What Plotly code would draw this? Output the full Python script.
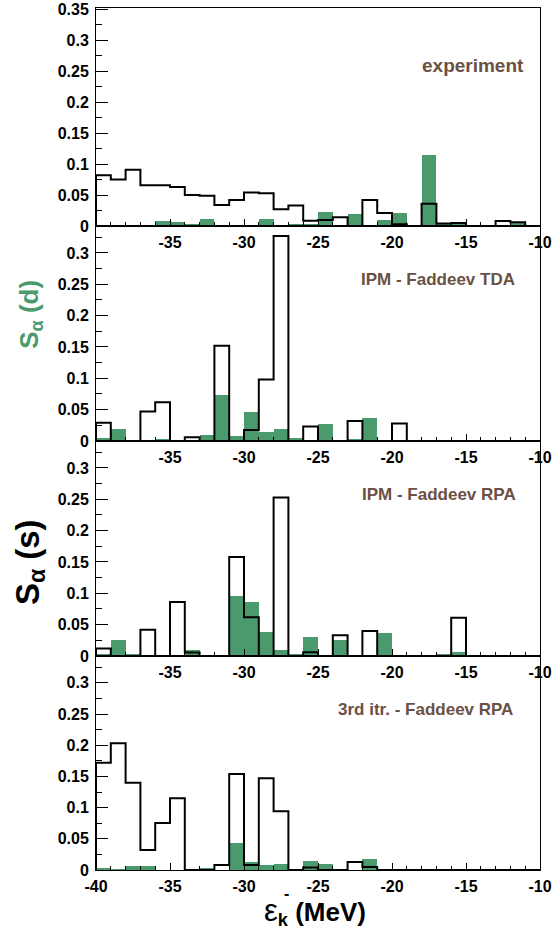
import plotly.graph_objects as go
from plotly.subplots import make_subplots

# ---- data: 30 bins of 1 MeV from -40 to -10 MeV ----
bin_edges = list(range(-40, -9))          # -40 ... -10
bin_centers = [e + 0.5 for e in bin_edges[:-1]]

panel_labels = ["experiment", "IPM - Faddeev TDA", "IPM - Faddeev RPA", "3rd itr. - Faddeev RPA"]

# s-wave (black outline)
exp_s = [0.082, 0.075, 0.091, 0.066, 0.066, 0.063, 0.050, 0.049, 0.034, 0.042,
         0.054, 0.053, 0.027, 0.033, 0.0085, 0.0096, 0.014, 0.0, 0.042, 0.021,
         0.003, 0.0, 0.036, 0.004, 0.005, 0.0, 0.0, 0.008, 0.006, 0.0]
tda_s = [0.029, 0.0, 0.0, 0.047, 0.062, 0.0, 0.006, 0.0, 0.152, 0.0,
         0.0177, 0.098, 0.327, 0.0, 0.023, 0.0, 0.0, 0.032, 0.0, 0.0,
         0.028, 0.0, 0.0, 0.0, 0.0, 0.0, 0.0, 0.0, 0.0, 0.0]
rpa_s = [0.012, 0.0, 0.0, 0.042, 0.0, 0.086, 0.0054, 0.0, 0.0, 0.158,
         0.062, 0.0, 0.253, 0.0, 0.006, 0.0, 0.033, 0.0, 0.040, 0.0,
         0.0, 0.0, 0.0, 0.0, 0.061, 0.0, 0.0, 0.0, 0.0, 0.0]
itr_s = [0.172, 0.203, 0.140, 0.032, 0.0755, 0.115, 0.0, 0.0, 0.008, 0.154,
         0.008, 0.147, 0.094, 0.0, 0.004, 0.0, 0.0, 0.013, 0.005, 0.0,
         0.0, 0.0, 0.0, 0.0, 0.0, 0.0, 0.0, 0.0, 0.0, 0.0]

# d-wave (green filled)
exp_d = [0.0, 0.0, 0.0, 0.0, 0.0085, 0.006, 0.003, 0.011, 0.0, 0.0,
         0.0, 0.0107, 0.0, 0.004, 0.003, 0.023, 0.0, 0.020, 0.0, 0.0096,
         0.021, 0.0, 0.114, 0.003, 0.003, 0.0, 0.0, 0.0, 0.005, 0.0]
tda_d = [0.004, 0.019, 0.0, 0.0, 0.003, 0.0, 0.0, 0.010, 0.074, 0.008,
         0.0455, 0.015, 0.019, 0.004, 0.0, 0.027, 0.0, 0.003, 0.036, 0.0,
         0.0, 0.0, 0.0, 0.0, 0.0, 0.0, 0.0, 0.0, 0.0, 0.0]
rpa_d = [0.002, 0.026, 0.002, 0.0, 0.0, 0.0, 0.0097, 0.0, 0.0, 0.0957,
         0.0866, 0.039, 0.0097, 0.003, 0.030, 0.0, 0.025, 0.0, 0.0, 0.037,
         0.0, 0.0015, 0.0, 0.003, 0.006, 0.0, 0.0, 0.0, 0.0, 0.0]
itr_d = [0.003, 0.001, 0.006, 0.006, 0.0, 0.0, 0.0, 0.004, 0.0, 0.044,
         0.013, 0.008, 0.0096, 0.0, 0.014, 0.0096, 0.0, 0.0, 0.0175, 0.0,
         0.0, 0.0, 0.0, 0.0, 0.0, 0.0, 0.0, 0.0, 0.0, 0.0]

s_series = [exp_s, tda_s, rpa_s, itr_s]
d_series = [exp_d, tda_d, rpa_d, itr_d]

x_ticks_upper = [-35, -30, -25, -20, -15, -10]
x_ticks_bottom = [-40, -35, -30, -25, -20, -15, -10]
y_ticks = [0, 0.05, 0.1, 0.15, 0.2, 0.25, 0.3, 0.35]
y_tick_text = ["0", "0.05", "0.1", "0.15", "0.2", "0.25", "0.3", "0.35"]

GREEN = "#4a9a6e"
BROWN = "#6b5044"
FONT = "Liberation Sans, Arial, Helvetica, sans-serif"

fig = make_subplots(rows=4, cols=1, vertical_spacing=0,
                    row_heights=[218, 215, 215, 214])

for i in range(4):
    row = i + 1
    fig.add_trace(go.Bar(x=bin_centers, y=d_series[i], width=1,
                         marker=dict(color=GREEN, line=dict(width=0)),
                         showlegend=False, hoverinfo="skip"), row=row, col=1)
    vals = s_series[i]
    xs = [bin_edges[0]] + bin_edges[:-1] + [bin_edges[-1], bin_edges[-1]]
    ys = [0] + vals + [vals[-1], 0]
    fig.add_trace(go.Scatter(x=xs, y=ys, mode="lines", line_shape="hv",
                             line=dict(color="black", width=2),
                             showlegend=False, hoverinfo="skip"), row=row, col=1)

    xt = x_ticks_bottom if row == 4 else x_ticks_upper
    fig.update_xaxes(range=[-40, -10], showgrid=False, zeroline=False,
                     showline=True, mirror=True, linecolor="black", linewidth=1,
                     ticks="inside", ticklen=7, tickcolor="black", tickwidth=1,
                     tickvals=xt, ticktext=[str(v) for v in xt],
                     ticklabelstandoff=2, ticklabeloverflow="allow", automargin=False,
                     tickfont=dict(family=FONT, size=16, color="black", weight="bold"),
                     minor=dict(dtick=1, tick0=-40, ticks="inside", ticklen=4,
                                tickcolor="black", showgrid=False),
                     row=row, col=1)
    fig.update_yaxes(range=[0, 0.352] if row == 1 else [0, 0.343],
                     showgrid=False, zeroline=False,
                     showline=True, mirror=True, linecolor="black", linewidth=1,
                     ticks="inside", ticklen=12, tickcolor="black", tickwidth=1,
                     tickvals=y_ticks, ticktext=y_tick_text,
                     ticklabelstandoff=3, ticklabeloverflow="allow", automargin=False,
                     tickfont=dict(family=FONT, size=16, color="black", weight="bold"),
                     minor=dict(dtick=0.025, tick0=0, ticks="inside", ticklen=6,
                                tickcolor="black", showgrid=False),
                     row=row, col=1)

label_pos = [(0.968, 0.737, 19), (0.948, 0.749, 17), (0.95, 0.749, 17), (0.944, 0.748, 17)]
for i, (lx, ly, fs) in enumerate(label_pos):
    sfx = "" if i == 0 else str(i + 1)
    fig.add_annotation(text=panel_labels[i], xref=f"x{sfx} domain", yref=f"y{sfx} domain",
                       x=lx, y=ly, xanchor="right", yanchor="middle", showarrow=False,
                       font=dict(family=FONT, size=fs, color=BROWN, weight="bold"))

# y-axis titles
fig.add_annotation(text="S<sub>α</sub> (d)", xref="paper", yref="paper",
                   x=-0.149, y=0.645, textangle=-90, showarrow=False,
                   xanchor="center", yanchor="middle",
                   font=dict(family=FONT, size=26, color=GREEN, weight="bold"))
fig.add_annotation(text="S<sub>α</sub> (s)", xref="paper", yref="paper",
                   x=-0.149, y=0.357, textangle=-90, showarrow=False,
                   xanchor="center", yanchor="middle",
                   font=dict(family=FONT, size=33, color="black", weight="bold"))
# x-axis title
fig.add_annotation(text="<span style='font-size:31px'>ε</span><sub><b>k</b></sub>\u00a0<b>(MeV)</b>",
                   xref="paper", yref="paper",
                   x=0.6126, y=-0.048, showarrow=False, xanchor="right", yanchor="middle",
                   font=dict(family=FONT, size=26, color="black"))
fig.add_annotation(text="<b>-</b>", xref="paper", yref="paper",
                   x=0.428, y=-0.027, showarrow=False, xanchor="center", yanchor="middle",
                   font=dict(family=FONT, size=16, color="black"))

fig.update_layout(width=553, height=940, bargap=0, barmode="overlay",
                  margin=dict(l=96, r=13, t=8, b=70, autoexpand=False),
                  paper_bgcolor="white", plot_bgcolor="rgba(0,0,0,0)",
                  font=dict(family=FONT))

fig.write_html("out.html", config={"displayModeBar": False},
               post_script="document.body.style.margin='0px';document.body.style.padding='0px';")
